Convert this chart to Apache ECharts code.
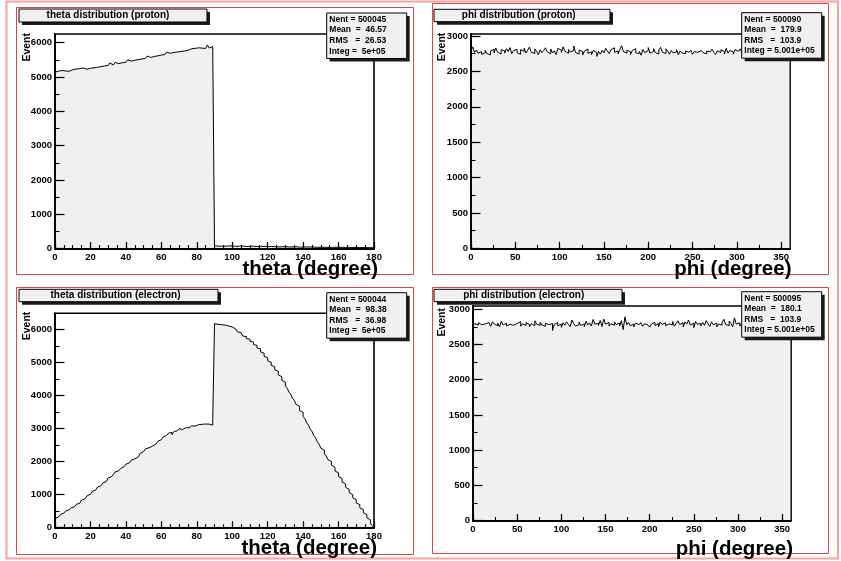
<!DOCTYPE html>
<html><head><meta charset="utf-8">
<script src="https://cdn.jsdelivr.net/npm/echarts@6/dist/echarts.min.js"></script>
<style>html,body{margin:0;padding:0;background:#fff}#c{width:841px;height:561px}</style>
</head><body><div id="c"></div>
<script>
// ---- data: bin contents (theta: 180 bins of 1 degree, phi: 180 bins of 2 degrees)
const thetaProton = [
5142,5170,5155,5188,5160,5175,5203,5168,5190,5214,
5198,5232,5207,5245,5221,5263,5240,5228,5276,5252,
5290,5268,5312,5285,5330,5301,5347,5322,5360,5338,
5375,5410,5352,5398,5425,5389,5441,5416,5458,5430,
5474,5502,5461,5519,5488,5535,5507,5551,5526,5570,
5545,5589,5612,5571,5620,5598,5644,5617,5661,5639,
5683,5655,5702,5728,5690,5741,5713,5752,5730,5768,
5744,5785,5759,5801,5776,5790,5822,5798,5835,5810,
5851,5826,5843,5870,5832,5861,5935,5847,5889,5868,
78,71,83,66,74,69,80,72,65,77,
70,63,75,68,61,72,66,59,70,64,
58,67,61,55,64,59,52,62,56,60,
53,58,49,56,51,47,55,50,46,53,
48,44,51,46,42,49,45,41,47,43,
40,45,39,43,37,42,38,35,41,36,
39,34,37,32,36,33,30,35,31,34,
29,33,28,31,27,30,26,29,25,28,
24,27,23,26,22,25,21,23,20,22];
const thetaElectron = [
285,322,360,398,440,475,505,540,572,603,
631,668,705,742,790,838,872,915,962,1010,
1058,1102,1140,1185,1228,1270,1318,1352,1398,1455,
1502,1548,1580,1612,1690,1722,1758,1790,1848,1885,
1921,1960,2008,2045,2080,2072,2138,2195,2248,2302,
2340,2385,2415,2430,2468,2490,2528,2570,2615,2660,
2705,2748,2790,2835,2862,2880,2810,2905,2932,2968,
2995,2970,3010,3028,3045,3022,3060,3085,3070,3098,
3115,3102,3128,3140,3135,3150,3132,3118,3102,3225,
6172,6151,6166,6139,6155,6128,6136,6101,6097,6070,
6065,6010,5985,5921,5898,5862,5795,5782,5718,5702,
5641,5612,5538,5515,5436,5408,5318,5279,5185,5140,
5048,5001,4910,4868,4775,4731,4622,4565,4455,4398,
4290,4222,4101,4040,3915,3852,3730,3671,3548,3489,
3365,3298,3171,3105,2980,2912,2790,2725,2598,2530,
2405,2346,2231,2170,2058,2003,1889,1830,1715,1660,
1545,1490,1380,1325,1218,1162,1060,1004,905,850,
748,698,598,550,452,402,300,240,135,60];
const phiProton = [
2790,2845,2768,2802,2755,2781,2740,2762,2798,2751,
2733,2787,2811,2760,2829,2772,2744,2806,2790,2758,
2821,2779,2836,2750,2795,2812,2763,2741,2808,2784,
2827,2759,2799,2843,2770,2752,2818,2786,2737,2805,
2765,2794,2833,2776,2749,2815,2761,2790,2738,2824,
2801,2769,2847,2783,2756,2810,2772,2795,2859,2764,
2745,2802,2778,2731,2789,2816,2754,2775,2738,2796,
2768,2712,2781,2744,2799,2760,2826,2785,2751,2807,
2833,2769,2790,2748,2812,2863,2779,2757,2801,2774,
2739,2796,2820,2761,2753,2782,2728,2809,2765,2793,
2836,2758,2780,2821,2767,2745,2803,2839,2770,2752,
2818,2784,2742,2797,2762,2775,2806,2733,2790,2761,
2749,2787,2770,2756,2799,2741,2781,2768,2753,2794,
2819,2764,2747,2788,2776,2758,2813,2771,2739,2792,
2766,2805,2781,2744,2826,2757,2797,2773,2742,2808,
2785,2760,2818,2751,2789,2774,2736,2802,2767,2793,
2755,2784,2829,2763,2748,2795,2771,2810,2757,2782,
2740,2799,2768,2817,2776,2752,2806,2779,2761,2788];
const phiElectron = [
2762,2798,2775,2809,2781,2756,2794,2770,2812,2786,
2759,2823,2791,2767,2804,2752,2830,2779,2801,2764,
2789,2815,2773,2747,2799,2782,2826,2760,2794,2770,
2811,2785,2753,2796,2768,2838,2790,2771,2815,2776,
2759,2803,2782,2767,2797,2699,2788,2812,2765,2791,
2744,2808,2774,2820,2786,2755,2848,2797,2762,2781,
2819,2770,2793,2752,2831,2779,2808,2764,2856,2788,
2803,2771,2842,2755,2862,2789,2814,2761,2796,2773,
2821,2783,2807,2762,2840,2710,2893,2779,2815,2766,
2790,2751,2804,2782,2769,2812,2758,2795,2776,2802,
2747,2789,2816,2771,2798,2753,2822,2785,2808,2767,
2793,2813,2779,2826,2760,2798,2837,2784,2809,2751,
2822,2790,2848,2776,2803,2741,2827,2788,2798,2764,
2815,2772,2839,2795,2757,2823,2781,2804,2749,2791,
2775,2812,2858,2786,2767,2831,2799,2752,2878,2790,
2808,2761,2796,2774,2829,2783,2755,2812,2790,2764,
2819,2779,2803,2748,2833,2771,2798,2817,2759,2786,
2802,2768,2791,2824,2776,2757,2809,2785,2772,2798];

// ---- tick labels
const thetaTicks = [0,20,40,60,80,100,120,140,160,180];
const phiTicks = [0,50,100,150,200,250,300,350];
const thetaYTicks = [0,1000,2000,3000,4000,5000,6000];
const phiYTicks = [0,500,1000,1500,2000,2500,3000];

// ---- texts
const titles = ['theta distribution (proton)','phi distribution (proton)','theta distribution (electron)','phi distribution (electron)'];
const xTitles = ['theta (degree)','phi (degree)','theta (degree)','phi (degree)'];
const yTitle = 'Event';
const statsThetaProton = ['Nent = 500045','Mean  =  46.57','RMS   =  26.53','Integ =  5e+05'];
const statsPhiProton = ['Nent = 500090','Mean  =  179.9','RMS   =  103.9','Integ = 5.001e+05'];
const statsThetaElectron = ['Nent = 500044','Mean  =  98.38','RMS   =  36.98','Integ =  5e+05'];
const statsPhiElectron = ['Nent = 500095','Mean  =  180.1','RMS   =  103.9','Integ = 5.001e+05'];

const FONT = '"Liberation Sans", Arial, Helvetica, sans-serif';

function histData(values, lo, hi) {
  const n = values.length, w = (hi - lo) / n;
  const d = [[lo, 0]];
  values.forEach((v, i) => d.push([lo + i * w, v]));
  d.push([hi, values[n - 1]]);
  d.push([hi, 0]);
  return d;
}
function minorOf(ticks, parts, max) {
  const out = [];
  const step = (ticks[1] - ticks[0]) / parts;
  for (let v = ticks[0]; v <= max + 1e-9; v += step) out.push(Math.round(v * 1000) / 1000);
  return out;
}

const panels = [
  {grid:{left:55,top:34,width:319,height:214.5}, xmax:180, ymax:6254, data:thetaProton, xt:thetaTicks, xparts:4, yt:thetaYTicks,
   frame:[16.5,7.5,397,267], tbox:[19,9,188,13], tcx:108, sbox:[326.7,13,80], stats:statsThetaProton, xt_pos:[378,269.5], ev:[27,33]},
  {grid:{left:471,top:34,width:319,height:214.3}, xmax:360, ymax:3028, data:phiProton, xt:phiTicks, xparts:2, yt:phiYTicks,
   frame:[432.5,3.5,396,271], tbox:[434,9.3,176,12.4], tcx:518.7, sbox:[741.7,12.7,80], stats:statsPhiProton, xt_pos:[791.5,269.5], ev:[442.5,32.7]},
  {grid:{left:55,top:313.3,width:319,height:214.4}, xmax:180, ymax:6484, data:thetaElectron, xt:thetaTicks, xparts:4, yt:thetaYTicks,
   frame:[16.5,287.5,397,267], tbox:[19,289.3,199,12.4], tcx:115.5, sbox:[326.7,292.7,80], stats:statsThetaElectron, xt_pos:[377,548], ev:[27,311.7]},
  {grid:{left:473,top:306,width:318,height:214.5}, xmax:360, ymax:3047, data:phiElectron, xt:phiTicks, xparts:2, yt:phiYTicks,
   frame:[432.5,287.5,396,266], tbox:[434,289.3,188,12.4], tcx:523.7, sbox:[741.7,291.7,80], stats:statsPhiElectron, xt_pos:[793,549.5], ev:[442.5,308]}
];

const grids = [], xAxes = [], yAxes = [], series = [], graphics = [];
const labelStyle = {color:'#000', fontFamily:FONT, fontWeight:'bold', fontSize:9.5};

// outer canvas border
graphics.push({type:'rect', shape:{x:6.5,y:1.5,width:831.5,height:557}, style:{fill:'none', stroke:'#f3a3a3', lineWidth:2}, z:1});

panels.forEach((p, i) => {
  grids.push(Object.assign({show:true, borderColor:'#000', borderWidth:1.6, backgroundColor:'#fff'}, p.grid));
  const xMinor = minorOf(p.xt, p.xparts, p.xmax);
  const yMinor = minorOf(p.yt, 2, p.ymax);
  xAxes.push({type:'value', gridIndex:i, position:'bottom', min:0, max:p.xmax, interval:p.xt[1]-p.xt[0], z:5,
    axisLine:{show:true, onZero:false, lineStyle:{color:'#000', width:1.8}},
    axisTick:{show:true, inside:true, length:6.5, lineStyle:{color:'#000', width:1.2}, customValues:p.xt},
    axisLabel:Object.assign({show:true, margin:4, customValues:p.xt, showMinLabel:true, showMaxLabel:true, formatter:v=>String(v)}, labelStyle),
    splitLine:{show:false}});
  xAxes.push({type:'value', gridIndex:i, position:'bottom', min:0, max:p.xmax, interval:(p.xt[1]-p.xt[0])/p.xparts, z:5,
    axisLine:{show:false, onZero:false}, axisLabel:{show:false}, splitLine:{show:false},
    axisTick:{show:true, inside:true, length:3.5, lineStyle:{color:'#000', width:1.1}, customValues:xMinor}});
  yAxes.push({type:'value', gridIndex:i, position:'left', min:0, max:p.ymax, interval:p.yt[1]-p.yt[0], z:5,
    axisLine:{show:true, onZero:false, lineStyle:{color:'#000', width:1.8}},
    axisTick:{show:true, inside:true, length:9.5, lineStyle:{color:'#000', width:1.2}, customValues:p.yt},
    axisLabel:Object.assign({show:true, margin:3, customValues:p.yt, showMinLabel:true, showMaxLabel:true, formatter:v=>String(v)}, labelStyle),
    splitLine:{show:false}});
  yAxes.push({type:'value', gridIndex:i, position:'left', min:0, max:p.ymax, interval:(p.yt[1]-p.yt[0])/2, z:5,
    axisLine:{show:false, onZero:false}, axisLabel:{show:false}, splitLine:{show:false},
    axisTick:{show:true, inside:true, length:4.5, lineStyle:{color:'#000', width:1.1}, customValues:yMinor}});
  series.push({type:'line', xAxisIndex:2*i, yAxisIndex:2*i, data:histData(p.data, 0, p.xmax), step:'end',
    showSymbol:false, symbol:'none', lineStyle:{color:'#000', width:1}, areaStyle:{color:'#f0f0f0', opacity:1},
    silent:true, z:2, clip:true});

  // panel border
  graphics.push({type:'rect', shape:{x:p.frame[0],y:p.frame[1],width:p.frame[2],height:p.frame[3]}, style:{fill:'none', stroke:'#de4444', lineWidth:1}, z:10});
  // title box with shadow
  const tb = p.tbox;
  graphics.push({type:'rect', shape:{x:tb[0]+3,y:tb[1]+3,width:tb[2],height:tb[3]}, style:{fill:'#1a1a1a'}, z:20});
  graphics.push({type:'rect', shape:{x:tb[0],y:tb[1],width:tb[2],height:tb[3]}, style:{fill:'#f0f0f0', stroke:'#000', lineWidth:1}, z:21});
  graphics.push({type:'text', x:p.tcx, y:tb[1]+tb[3]/2, z:22, style:{text:titles[i], fill:'#000', font:'bold 10px '+FONT, textAlign:'center', textVerticalAlign:'middle'}});
  // stats box with shadow
  const sb = p.sbox, sh = 45.5;
  graphics.push({type:'rect', shape:{x:sb[0]+3,y:sb[1]+3,width:sb[2],height:sh}, style:{fill:'#1a1a1a'}, z:20});
  graphics.push({type:'rect', shape:{x:sb[0],y:sb[1],width:sb[2],height:sh}, style:{fill:'#f0f0f0', stroke:'#000', lineWidth:1}, z:21});
  p.stats.forEach((s, k) => {
    graphics.push({type:'text', x:sb[0]+2.6, y:sb[1]+6.5+k*10.6, z:22, style:{text:s, fill:'#000', font:'bold 8.5px '+FONT, textAlign:'left', textVerticalAlign:'middle'}});
  });
  // axis titles
  graphics.push({type:'text', x:p.xt_pos[0], y:p.xt_pos[1], z:22, style:{text:xTitles[i], fill:'#000', font:'bold 20.5px '+FONT, textAlign:'right', textVerticalAlign:'middle'}});
  graphics.push({type:'text', x:p.ev[0], y:p.ev[1], rotation:Math.PI/2, z:22, style:{text:yTitle, fill:'#000', font:'bold 10.5px '+FONT, textAlign:'right', textVerticalAlign:'middle'}});
});

const chart = echarts.init(document.getElementById('c'), null, {renderer:'canvas'});
chart.setOption({
  animation:false,
  backgroundColor:'#fff',
  grid:grids, xAxis:xAxes, yAxis:yAxes, series:series,
  graphic:graphics
});
</script></body></html>
